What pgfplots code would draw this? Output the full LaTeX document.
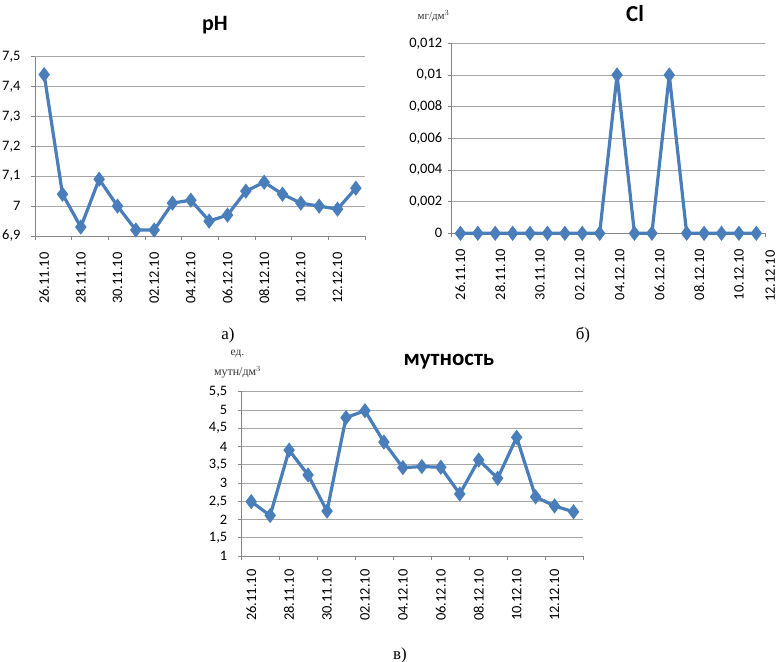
\documentclass[border=0pt]{standalone}
\usepackage{fontspec}
\setmainfont{Carlito}
\newfontfamily\tnr{Liberation Serif}
\usepackage{pgfplots}
\pgfplotsset{compat=1.18}
\definecolor{serblue}{HTML}{4A7EBB}
\definecolor{gridc}{HTML}{A6A6A6}
\definecolor{axc}{HTML}{868686}
\pgfplotsset{
  exstyle/.style={
    scale only axis,
    anchor=south west,
    axis x line*=bottom, axis y line*=left,
    axis line style={axc, line width=0.8bp, -},
    ymajorgrids, grid style={gridc, line width=0.8bp},
    tick align=outside,
    tick style={axc, line width=0.8bp},
    major tick length=0bp,
    minor tick length=4bp,
    xmin=-0.5, xmax=17.5,
    /pgf/number format/assume math mode=true,
    /pgf/number format/use comma,
    ticklabel style={font=\fontsize{14.5}{16}\selectfont, text=black},
    xticklabel style={rotate=90, anchor=east},
    xticklabel shift=13bp,
    yticklabel shift=9bp,
    scaled y ticks=false,
    clip=false,
  },
  exline/.style={serblue, line width=3.2bp, line join=round, mark=diamond*, mark size=5bp, mark options={serblue, solid, line join=miter}},
}
\pgfplotstableread{
x pH Cl mut
0  7.44 0    2.49
1  7.04 0    2.11
2  6.93 0    3.90
3  7.09 0    3.22
4  7.00 0    2.23
5  6.92 0    4.79
6  6.92 0    4.98
7  7.01 0    4.12
8  7.02 0    3.42
9  6.95 0.01 3.45
10 6.97 0    3.43
11 7.05 0    2.70
12 7.08 0.01 3.63
13 7.04 0    3.13
14 7.01 0    4.25
15 7.00 0    2.62
16 6.99 0    2.37
17 7.06 0    2.21
}\datatable
\begin{document}
\begin{tikzpicture}
\path[use as bounding box] (0,0) rectangle (781bp,-662bp);
% pH
\begin{axis}[exstyle,
  at={(35bp,-236bp)}, width=330bp, height=179.3bp,
  ymin=6.9, ymax=7.5,
  yticklabel shift=11bp,
  ytick={6.9,7.0,7.1,7.2,7.3,7.4,7.5},
  minor ytick={6.9,7.0,7.1,7.2,7.3,7.4,7.5},
  xtick={0,2,4,6,8,10,12,14,16},
  xticklabels={26.11.10,28.11.10,30.11.10,02.12.10,04.12.10,06.12.10,08.12.10,10.12.10,12.12.10},
  minor xtick={-0.5,1.5,3.5,5.5,7.5,9.5,11.5,13.5,15.5,17.5},
  /pgf/number format/.cd, fixed, precision=1]
\addplot[exline] table[x=x, y=pH] {\datatable};
\end{axis}
% Cl
\begin{axis}[exstyle,
  at={(451.7bp,-233.3bp)}, width=313.3bp, height=190bp,
  ymin=0, ymax=0.012,
  yticklabel shift=6bp,
  xticklabel shift=12bp,
  ytick={0,0.002,0.004,0.006,0.008,0.01,0.012},
  minor ytick={0,0.002,0.004,0.006,0.008,0.01,0.012},
  yticklabel style={/pgf/number format/.cd, fixed, precision=3},
  xtick={0,2.287,4.575,6.862,9.15,11.437,13.72,16.01},
  xticklabels={26.11.10,28.11.10,30.11.10,02.12.10,04.12.10,06.12.10,08.12.10,10.12.10},
  minor xtick={-0.5,17.5}]
\addplot[exline] table[x=x, y=Cl] {\datatable};
\node[rotate=90, anchor=east, inner sep=0bp, font=\fontsize{14.5}{16}\selectfont, text=black] at ([yshift=-17bp]axis cs:17.8,0) {12.12.10};
\end{axis}
% mutnost
\begin{axis}[exstyle,
  at={(241.7bp,-556bp)}, width=341.3bp, height=164.3bp,
  ymin=1, ymax=5.5,
  yticklabel shift=11bp,
  xticklabel shift=10bp,
  ytick={1,1.5,2,2.5,3,3.5,4,4.5,5,5.5},
  minor ytick={1,1.5,2,2.5,3,3.5,4,4.5,5,5.5},
  xtick={0,2,4,6,8,10,12,14,16},
  xticklabels={26.11.10,28.11.10,30.11.10,02.12.10,04.12.10,06.12.10,08.12.10,10.12.10,12.12.10},
  minor xtick={-0.5,1.5,3.5,5.5,7.5,9.5,11.5,13.5,15.5,17.5}]
\addplot[exline] table[x=x, y=mut] {\datatable};
\end{axis}
% titles
\node[font=\fontsize{22}{24}\bfseries\selectfont] at (215bp,-25bp) {pH};
\node[font=\fontsize{23}{25}\bfseries\selectfont] at (635bp,-14bp) {Cl};
\node[font=\fontsize{23}{25}\bfseries\selectfont] at (449bp,-362bp) {мутность};
% units
\node[font=\tnr\fontsize{11}{12}\selectfont, text=black!80] at (433.5bp,-16bp) {мг/дм$^3$};
\node[font=\tnr\fontsize{11.5}{12}\selectfont, text=black!80] at (237.5bp,-354bp) {ед.};
\node[font=\tnr\fontsize{12}{13}\selectfont, text=black!80] at (237.5bp,-372bp) {мутн/дм$^3$};
% sub labels
\node[font=\tnr\fontsize{17}{19}\selectfont] at (228bp,-335bp) {а)};
\node[font=\tnr\fontsize{17}{19}\selectfont] at (583bp,-335bp) {б)};
\node[font=\tnr\fontsize{17}{19}\selectfont] at (400bp,-655bp) {в)};
\end{tikzpicture}
\end{document}
